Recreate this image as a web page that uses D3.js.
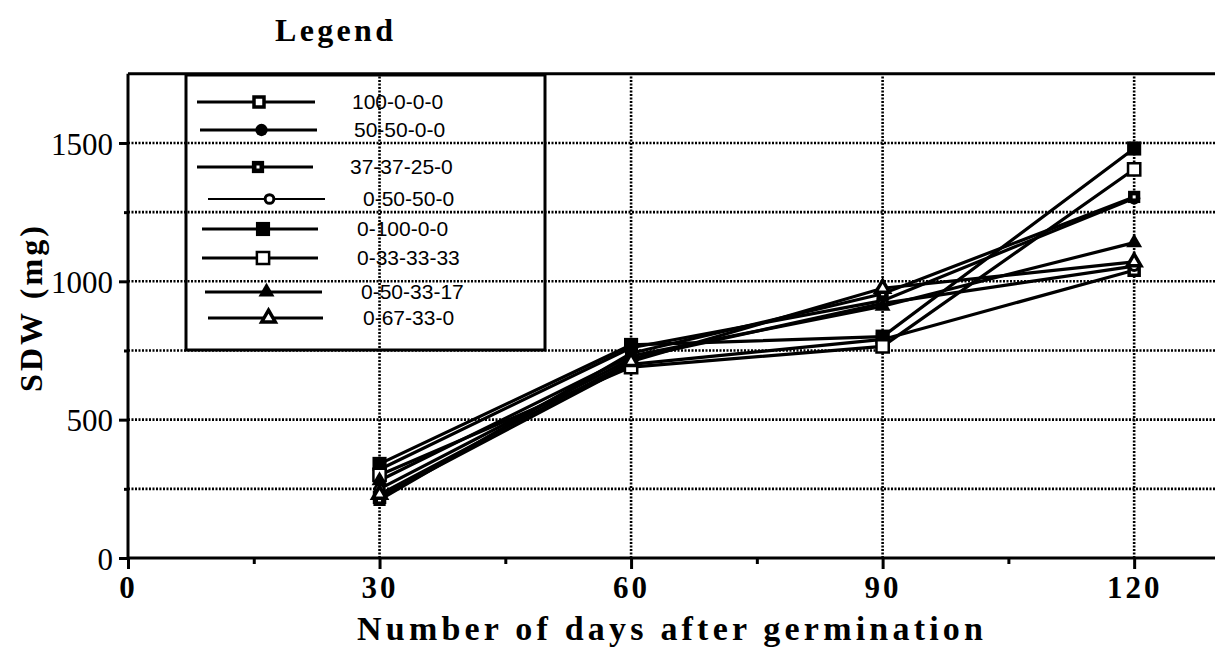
<!DOCTYPE html>
<html>
<head>
<meta charset="utf-8">
<script src="https://cdn.jsdelivr.net/npm/d3@7/dist/d3.min.js"></script>
<style>
  body { margin: 0; background: #fff; }
  svg { display: block; }
</style>
</head>
<body>
<div id="chart"></div>
<script>
// days after germination
var days = [30, 60, 90, 120];

// series names, as in the legend
var seriesNames = ["100-0-0-0", "50-50-0-0", "37-37-25-0", "0-50-50-0",
                   "0-100-0-0", "0-33-33-33", "0-50-33-17", "0-67-33-0"];

// SDW (mg)
var sdw_100_0_0_0   = [220, 700, 790, 1040];
var sdw_50_50_0_0   = [320, 760, 930, 1300];
var sdw_37_37_25_0  = [210, 740, 955, 1305];
var sdw_0_50_50_0   = [250, 720, 920, 1055];
var sdw_0_100_0_0   = [340, 770, 800, 1480];
var sdw_0_33_33_33  = [300, 690, 765, 1405];
var sdw_0_50_33_17  = [280, 730, 910, 1140];
var sdw_0_67_33_0   = [230, 710, 975, 1070];

var seriesValues = [sdw_100_0_0_0, sdw_50_50_0_0, sdw_37_37_25_0, sdw_0_50_50_0,
                    sdw_0_100_0_0, sdw_0_33_33_33, sdw_0_50_33_17, sdw_0_67_33_0];

// tick values
var xMajor = [0, 30, 60, 90, 120];
var xMinor = [15, 45, 75, 105];
var yMajor = [0, 500, 1000, 1500];
var yMinor = [250, 750, 1250];
var yGrid = [250, 500, 750, 1000, 1250, 1500];

// marker kinds, one per series
var markerKinds = ["sqDot", "circle", "sqFillDot", "circleDot",
                   "sqFill", "sqOpen", "triFill", "triDot"];

var W = 1215, H = 658;
var serif = "'Liberation Serif', 'Times New Roman', serif";
var sans = "'Liberation Sans', Arial, sans-serif";

var svg = d3.select("#chart").append("svg")
    .attr("width", W).attr("height", H);

var x = d3.scaleLinear().domain([0, 130]).range([128, 1218]);
var y = d3.scaleLinear().domain([0, 1750]).range([558, 73.8]);

// grid lines (dotted, wavy look)
svg.append("g").selectAll("line").data(yGrid).enter().append("line")
    .attr("x1", x(0)).attr("x2", W)
    .attr("y1", d => y(d)).attr("y2", d => y(d))
    .attr("stroke", "#000").attr("stroke-width", 2.6)
    .attr("stroke-dasharray", "2,1.5");
svg.append("g").selectAll("line").data(days).enter().append("line")
    .attr("x1", d => x(d)).attr("x2", d => x(d))
    .attr("y1", y(0)).attr("y2", y(1750))
    .attr("stroke", "#000").attr("stroke-width", 2.6)
    .attr("stroke-dasharray", "2,1.5");

// top frame line
svg.append("line")
    .attr("x1", x(0)).attr("x2", W)
    .attr("y1", y(1750)).attr("y2", y(1750))
    .attr("stroke", "#000").attr("stroke-width", 3);

// axes
function styleAxis(g) {
    g.select(".domain").attr("stroke", "#000").attr("stroke-width", 3);
    g.selectAll(".tick line").attr("stroke", "#000").attr("stroke-width", 3);
}

var yAxisMajor = svg.append("g")
    .attr("transform", "translate(" + x(0) + ",0)")
    .call(d3.axisLeft(y).tickValues(yMajor).tickSize(9).tickSizeOuter(0)
        .tickPadding(6).tickFormat(d3.format("d")));
styleAxis(yAxisMajor);
yAxisMajor.selectAll("text")
    .attr("font-family", serif).attr("font-size", 31).attr("fill", "#000")
    .attr("dy", "0.36em");
yAxisMajor.select(".domain").attr("d", "M0," + y(0) + "V" + y(1750));

var yAxisMinor = svg.append("g")
    .attr("transform", "translate(" + x(0) + ",0)")
    .call(d3.axisLeft(y).tickValues(yMinor).tickSize(4).tickFormat(""));
styleAxis(yAxisMinor);
yAxisMinor.select(".domain").remove();

var xAxisMajor = svg.append("g")
    .attr("transform", "translate(0," + y(0) + ")")
    .call(d3.axisBottom(x).tickValues(xMajor).tickSize(11).tickSizeOuter(0).tickPadding(7));
styleAxis(xAxisMajor);
xAxisMajor.select(".domain").attr("d", "M" + x(0) + ",0H" + W);
xAxisMajor.selectAll("text")
    .attr("font-family", serif).attr("font-size", 31).attr("font-weight", "bold")
    .attr("letter-spacing", 3).attr("fill", "#000");

var xAxisMinor = svg.append("g")
    .attr("transform", "translate(0," + y(0) + ")")
    .call(d3.axisBottom(x).tickValues(xMinor).tickSize(6).tickFormat(""));
styleAxis(xAxisMinor);
xAxisMinor.select(".domain").remove();

// axis titles
svg.append("text")
    .attr("x", 357).attr("y", 640)
    .attr("textLength", 626).attr("lengthAdjust", "spacing")
    .attr("font-family", serif).attr("font-size", 34).attr("font-weight", "bold")
    .text("Number of days after germination");

svg.append("text")
    .attr("transform", "translate(42,392) rotate(-90)")
    .attr("textLength", 166).attr("lengthAdjust", "spacing")
    .attr("font-family", serif).attr("font-size", 32).attr("font-weight", "bold")
    .text("SDW  (mg)");

svg.append("text")
    .attr("x", 275).attr("y", 41)
    .attr("textLength", 118).attr("lengthAdjust", "spacing")
    .attr("font-family", serif).attr("font-size", 32).attr("font-weight", "bold")
    .text("Legend");

// markers
function drawMarker(g, kind, cx, cy) {
    var sq = d3.symbol().type(d3.symbolSquare);
    var tri = d3.symbol().type(d3.symbolTriangle);
    var cir = d3.symbol().type(d3.symbolCircle);
    var m = g.append("g").attr("transform", "translate(" + cx + "," + cy + ")");
    if (kind === "sqDot") {
        m.append("path").attr("d", sq.size(100)()).attr("fill", "#fff")
            .attr("stroke", "#000").attr("stroke-width", 3.5);
    } else if (kind === "circle") {
        m.append("path").attr("d", cir.size(120)()).attr("fill", "#000");
    } else if (kind === "sqFillDot") {
        m.append("path").attr("d", sq.size(150)()).attr("fill", "#000");
        m.append("rect").attr("x", -1.5).attr("y", -1.5).attr("width", 3).attr("height", 3).attr("fill", "#fff");
    } else if (kind === "circleDot") {
        m.append("path").attr("d", cir.size(60)()).attr("fill", "#fff")
            .attr("stroke", "#000").attr("stroke-width", 3);
    } else if (kind === "sqFill") {
        m.append("path").attr("d", sq.size(200)()).attr("fill", "#000");
    } else if (kind === "sqOpen") {
        m.append("path").attr("d", sq.size(150)()).attr("fill", "#fff")
            .attr("stroke", "#000").attr("stroke-width", 2.5);
    } else if (kind === "triFill") {
        m.append("path").attr("d", tri.size(110)()).attr("fill", "#000");
    } else if (kind === "triDot") {
        m.append("path").attr("d", tri.size(80)()).attr("fill", "#fff")
            .attr("stroke", "#000").attr("stroke-width", 3.5);
    }
}

// series lines
var line = d3.line().x((d, i) => x(days[i])).y(d => y(d));
var plot = svg.append("g");
plot.selectAll("path.series").data(seriesValues).enter().append("path")
    .attr("class", "series")
    .attr("d", d => line(d))
    .attr("fill", "none").attr("stroke", "#000").attr("stroke-width", 3.2);

seriesValues.forEach(function(vals, s) {
    vals.forEach(function(v, i) {
        drawMarker(plot, markerKinds[s], x(days[i]), y(v));
    });
});

// legend box (transparent, grid shows through)
var legendRowY = [102, 130, 167, 199, 229, 258, 292, 318];
var legendLineX = [[197, 315], [200, 317], [197, 313], [208, 325],
                   [202, 318], [202, 318], [205, 322], [208, 323]];
var legendTextX = [352, 354, 350, 363, 357, 357, 361, 363];

var legend = svg.append("g");
legend.append("rect")
    .attr("x", 186).attr("y", 75).attr("width", 359).attr("height", 275)
    .attr("fill", "none").attr("stroke", "#000").attr("stroke-width", 3);

seriesNames.forEach(function(name, i) {
    var yy = legendRowY[i];
    var lx = legendLineX[i];
    legend.append("line")
        .attr("x1", lx[0]).attr("x2", lx[1]).attr("y1", yy).attr("y2", yy)
        .attr("stroke", "#000").attr("stroke-width", i === 3 ? 2 : 3);
    drawMarker(legend, markerKinds[i], (lx[0] + lx[1]) / 2 + 3, yy);
    legend.append("text")
        .attr("x", legendTextX[i]).attr("y", yy + 7)
        .attr("font-family", sans).attr("font-size", 21)
        .text(name);
});
</script>
</body>
</html>
